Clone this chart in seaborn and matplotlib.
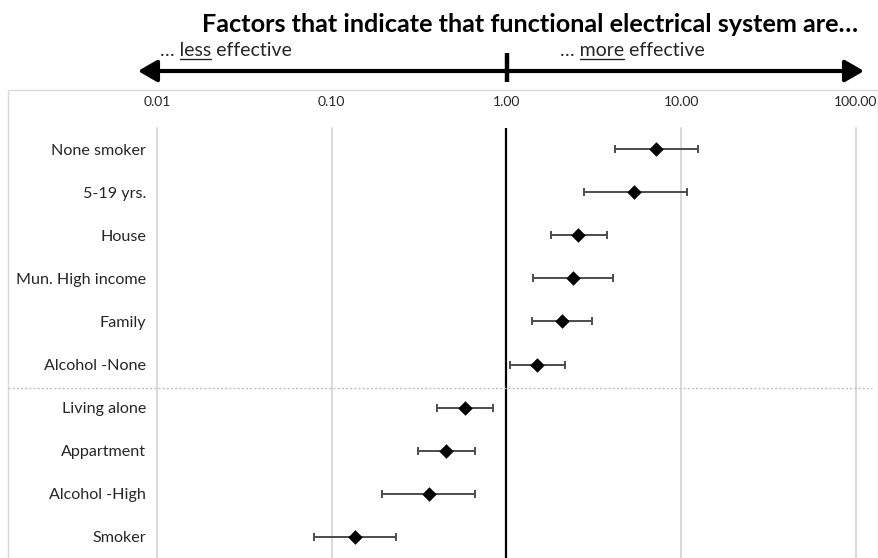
import numpy as np
import pandas as pd
import seaborn as sns
import matplotlib.pyplot as plt
from matplotlib.patches import FancyArrowPatch, Rectangle
from matplotlib.lines import Line2D

# odds ratios with 95% CI
factors = ["None smoker", "5-19 yrs.", "House", "Mun. High income", "Family",
           "Alcohol -None", "Living alone", "Appartment", "Alcohol -High", "Smoker"]
estimate = [7.2, 5.4, 2.57, 2.40, 2.07, 1.50, 0.58, 0.45, 0.36, 0.136]
ci_low = [4.15, 2.76, 1.79, 1.41, 1.40, 1.05, 0.40, 0.31, 0.194, 0.079]
ci_high = [12.4, 10.8, 3.75, 4.06, 3.08, 2.15, 0.84, 0.66, 0.66, 0.234]
x_ticks = [0.01, 0.1, 1, 10, 100]

df = pd.DataFrame({"factor": factors, "est": estimate, "lo": ci_low, "hi": ci_high})
df["row"] = np.arange(len(df))

sns.set_style("white")
plt.rcParams["font.family"] = ["Lato", "DejaVu Sans"]

W, H = 879, 558
fig = plt.figure(figsize=(W / 100, H / 100), dpi=100)


def fx(px):
    return px / W


def fy(py):
    return 1 - py / H


# outer light frame
fig.patches.append(Rectangle((fx(8), fy(600)), fx(870), fy(90) - fy(600),
                             transform=fig.transFigure, fill=False,
                             edgecolor="#d9d9d9", lw=1))

ax = fig.add_axes([fx(157), fy(558.5), fx(856) - fx(157), fy(127.5) - fy(558.5)])
ax.set_xscale("log")
ax.set_xlim(0.01, 100)
ax.set_ylim(len(df) - 0.5, -0.5)

for t in x_ticks:
    if t == 1:
        continue
    ax.axvline(t, color="#d9d9d9", lw=1.4, zorder=0, clip_on=False)
ax.axvline(1, color="black", lw=1.6, zorder=1)

ax.errorbar(df["est"], df["row"],
            xerr=[df["est"] - df["lo"], df["hi"] - df["est"]],
            fmt="none", ecolor="#4d4d4d", elinewidth=1.4, capsize=3, capthick=1.4,
            zorder=2)
sns.scatterplot(data=df, x="est", y="row", marker="D", color="black", s=55,
                edgecolor="black", linewidth=0, zorder=3, ax=ax, legend=False)

ax.xaxis.tick_top()
ax.set_xticks(x_ticks)
ax.set_xticklabels([f"{t:.2f}" for t in x_ticks], fontsize=10, color="#262626")
ax.xaxis.set_minor_locator(plt.NullLocator())
ax.tick_params(axis="x", length=0, pad=14)
ax.set_yticks(df["row"])
ax.set_yticklabels(df["factor"], fontsize=11.6, color="#262626")
ax.tick_params(axis="y", length=0, pad=8)
ax.set_xlabel("")
ax.set_ylabel("")
for s in ax.spines.values():
    s.set_visible(False)

# dotted separator between groups
fig.lines.append(Line2D([fx(8), fx(872)], [fy(388), fy(388)], transform=fig.transFigure,
                        color="#bfbfbf", lw=1, linestyle=(0, (1.5, 1.5))))

# title and direction arrow
fig.text(fx(530), fy(25), "Factors that indicate that functional electrical system are…",
         ha="center", va="center", fontsize=18.2, fontweight="bold", color="black")

arrow = FancyArrowPatch((fx(138), fy(71)), (fx(864), fy(71)), transform=fig.transFigure,
                        arrowstyle="<|-|>,head_length=0.95,head_width=0.55", mutation_scale=12,
                        color="black", lw=3, shrinkA=0, shrinkB=0)
fig.patches.append(arrow)
fig.lines.append(Line2D([fx(507), fx(507)], [fy(53), fy(82)], transform=fig.transFigure,
                        color="black", lw=3.2, solid_capstyle="butt"))

renderer = fig.canvas.get_renderer()


def width_px(s, size):
    t = fig.text(0, 0, s, fontsize=size)
    w = t.get_window_extent(renderer).width
    t.remove()
    return w


def underlined_label(x0, y0, word, rest, size=14):
    fig.text(fx(x0), fy(y0), f"… {word} {rest}", fontsize=size, ha="left",
             va="baseline", color="#262626")
    w_all = width_px(f"… {word}", size)
    w_word = width_px(word, size)
    fig.lines.append(Line2D([fx(x0 + w_all - w_word), fx(x0 + w_all)], [fy(y0 + 3), fy(y0 + 3)],
                            transform=fig.transFigure, color="#262626", lw=1))


underlined_label(160, 56, "less", "effective")
underlined_label(560, 56, "more", "effective")

fig.savefig("out.png", dpi=100)
